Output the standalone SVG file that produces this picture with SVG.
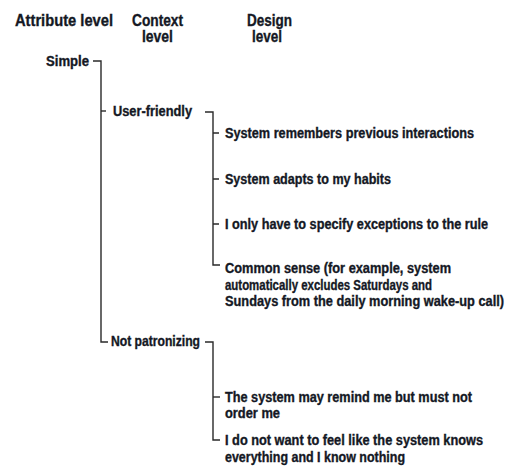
<svg xmlns="http://www.w3.org/2000/svg" width="515" height="466" viewBox="0 0 515 466">
  <style>
    text { font-family: "Liberation Sans", Arial, sans-serif; font-weight: bold; fill: #141824; stroke: #141824; stroke-width: 0.35; }
    .hd { font-size: 16px; }
    .tx { font-size: 14px; }
    .ln { fill: none; stroke: #2a2a2a; stroke-width: 1.4; }
  </style>
  <rect width="515" height="466" fill="#ffffff"/>

  <!-- column headers -->
  <g id="headers">
    <text class="hd" x="15" y="26" textLength="98" lengthAdjust="spacingAndGlyphs">Attribute level</text>
    <text class="hd" x="132" y="26" textLength="51" lengthAdjust="spacingAndGlyphs">Context</text>
    <text class="hd" x="142" y="42" textLength="31" lengthAdjust="spacingAndGlyphs">level</text>
    <text class="hd" x="247" y="26" textLength="45" lengthAdjust="spacingAndGlyphs">Design</text>
    <text class="hd" x="252" y="42" textLength="30" lengthAdjust="spacingAndGlyphs">level</text>
  </g>

  <!-- tree brackets -->
  <g id="connectors">
    <path class="ln" d="M93,61 H101 V342 H108"/>
    <path class="ln" d="M101,111 H106"/>
    <path class="ln" d="M205,112 H213 V265 H220"/>
    <path class="ln" d="M213,133 H219 M213,179 H219 M213,224 H219"/>
    <path class="ln" d="M205,342 H213 V440 H220"/>
    <path class="ln" d="M213,397 H220"/>
  </g>

  <g id="simple">
    <text class="tx" x="46" y="66" textLength="43" lengthAdjust="spacingAndGlyphs">Simple</text>
  </g>
  <g id="user-friendly">
    <text class="tx" x="113" y="116" textLength="79" lengthAdjust="spacingAndGlyphs">User-friendly</text>
  </g>
  <g id="not-patronizing">
    <text class="tx" x="111" y="346" textLength="89" lengthAdjust="spacingAndGlyphs">Not patronizing</text>
  </g>

  <g id="remembers">
    <text class="tx" x="225" y="138" textLength="249" lengthAdjust="spacingAndGlyphs">System remembers previous interactions</text>
  </g>
  <g id="adapts">
    <text class="tx" x="225" y="184" textLength="166" lengthAdjust="spacingAndGlyphs">System adapts to my habits</text>
  </g>
  <g id="exceptions">
    <text class="tx" x="225" y="229" textLength="263" lengthAdjust="spacingAndGlyphs">I only have to specify exceptions to the rule</text>
  </g>
  <g id="common-sense">
    <text class="tx" x="225" y="273" textLength="226" lengthAdjust="spacingAndGlyphs">Common sense (for example, system</text>
    <text class="tx" x="225" y="290" textLength="207" lengthAdjust="spacingAndGlyphs">automatically excludes Saturdays and</text>
    <text class="tx" x="225" y="306" textLength="279" lengthAdjust="spacingAndGlyphs">Sundays from the daily morning wake-up call)</text>
  </g>
  <g id="remind">
    <text class="tx" x="225" y="402" textLength="247" lengthAdjust="spacingAndGlyphs">The system may remind me but must not</text>
    <text class="tx" x="225" y="418" textLength="55" lengthAdjust="spacingAndGlyphs">order me</text>
  </g>
  <g id="knows-everything">
    <text class="tx" x="225" y="445" textLength="258" lengthAdjust="spacingAndGlyphs">I do not want to feel like the system knows</text>
    <text class="tx" x="225" y="462" textLength="180" lengthAdjust="spacingAndGlyphs">everything and I know nothing</text>
  </g>
</svg>
